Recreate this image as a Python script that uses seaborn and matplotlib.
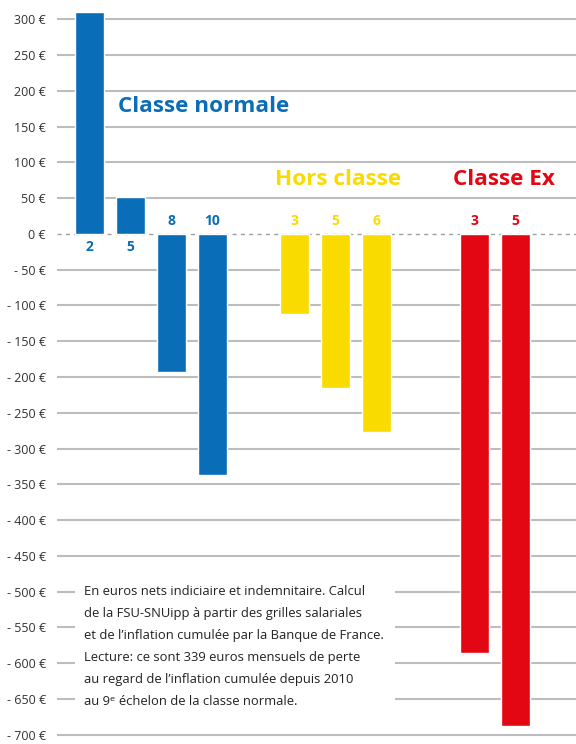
import matplotlib
matplotlib.use("Agg")
import matplotlib.pyplot as plt
import seaborn as sns
import pandas as pd
from matplotlib.patches import Rectangle

# ---- data ----
groups = ["Classe normale", "Hors classe", "Classe Ex"]
echelons_normale = ["2", "5", "8", "10"]
values_normale = [310, 52, -193, -337]
echelons_hors = ["3", "5", "6"]
values_hors = [-112, -215, -277]
echelons_ex = ["3", "5"]
values_ex = [-586, -688]
yticks = list(range(-700, 301, 50))
note_lines = [
    "En euros nets indiciaire et indemnitaire. Calcul",
    "de la FSU-SNUipp à partir des grilles salariales",
    "et de l\u2019inflation cumulée par la Banque de France.",
    "Lecture: ce sont 339 euros mensuels de perte",
    "au regard de l\u2019inflation cumulée depuis 2010",
    "au 9\u1d49 échelon de la classe normale.",
]

colors = {"Classe normale": "#0a6db7", "Hors classe": "#f9db00", "Classe Ex": "#e30613"}
group_start = {"Classe normale": 0.0, "Hors classe": 5.0, "Classe Ex": 9.39}

rows = []
for g, ech, vals in [("Classe normale", echelons_normale, values_normale),
                     ("Hors classe", echelons_hors, values_hors),
                     ("Classe Ex", echelons_ex, values_ex)]:
    for i, (e, v) in enumerate(zip(ech, vals)):
        rows.append({"group": g, "echelon": e, "value": v, "pos": group_start[g] + i})
df = pd.DataFrame(rows)

sns.set_theme(style="white")
plt.rcParams["font.family"] = ["Open Sans", "DejaVu Sans"]

fig = plt.figure(figsize=(5.76, 7.44), dpi=100)
ax = fig.add_axes([57 / 576, 0, 519 / 576, 1])

# gridlines
for t in yticks:
    if t == 0:
        ax.axhline(0, color="#a0a0a0", lw=1.0, ls=(0, (3, 3)), zorder=1)
    else:
        ax.axhline(t, color="#bdbdbd", lw=1.5, zorder=1)

sns.barplot(data=df, x="pos", y="value", hue="group", palette=colors,
            native_scale=True, dodge=False, width=0.7, legend=False,
            saturation=1, ax=ax, zorder=3)

ax.set_xlim(-0.79, 11.87)
ax.set_ylim(-713, 327)

# value labels (echelon numbers)
for _, r in df.iterrows():
    if r["value"] >= 0:
        y, va = -8, "top"
    else:
        y, va = 8, "bottom"
    ax.text(r["pos"], y, r["echelon"], ha="center", va=va, color=colors[r["group"]],
            fontsize=10, fontweight="bold", zorder=4)

# group titles
title_pos = {"Classe normale": (2.79, 178), "Hors classe": (6.07, 76), "Classe Ex": (10.12, 76)}
for g in groups:
    x, y = title_pos[g]
    ax.text(x, y, g, ha="center", va="center", color=colors[g], fontsize=16.2,
            fontweight="bold", zorder=4)

# note box
ax.add_patch(Rectangle((-0.36, -668), 7.82, 192, facecolor="white", edgecolor="none", zorder=2))
for i, line in enumerate(note_lines):
    ax.text(-0.14, -500 - i * 30.7, line, ha="left", va="center", fontsize=9.4,
            color="#222222", zorder=4)

ax.set_yticks(yticks)
ax.set_yticklabels([f"{t} \u20ac" if t >= 0 else f"- {abs(t)} \u20ac" for t in yticks],
                   fontsize=9, color="#333333")
ax.tick_params(axis="y", length=0, pad=8)
ax.set_xticks([])
ax.set_xlabel("")
ax.set_ylabel("")
for s in ax.spines.values():
    s.set_visible(False)

fig.savefig("out.png", dpi=100)
